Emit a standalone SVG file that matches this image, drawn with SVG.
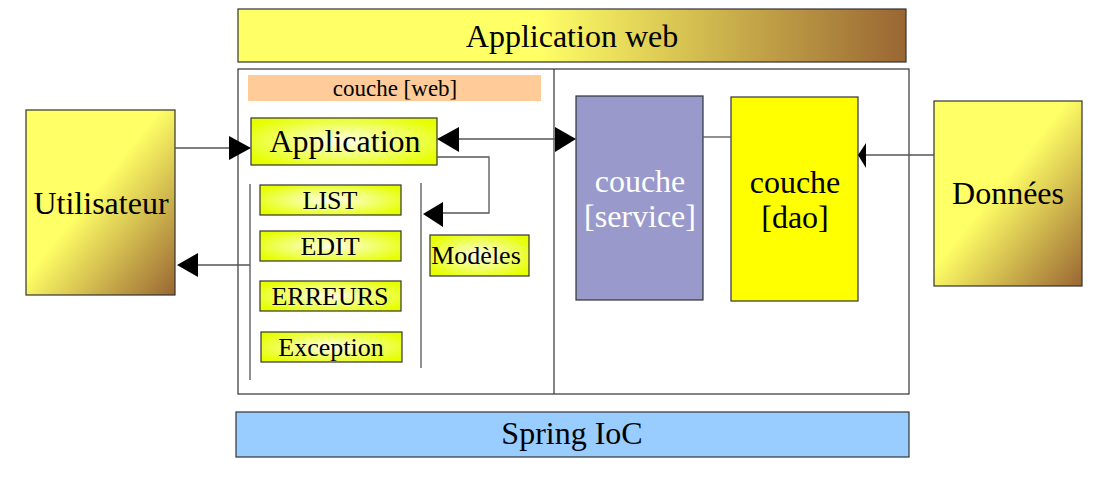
<svg xmlns="http://www.w3.org/2000/svg" width="1108" height="483" viewBox="0 0 1108 483">
<defs>
<linearGradient id="gTop" x1="0" y1="0" x2="1" y2="0">
<stop offset="0.45" stop-color="#ffff66"/>
<stop offset="1" stop-color="#996633"/>
</linearGradient>
<linearGradient id="gSide" x1="0" y1="0" x2="1" y2="1">
<stop offset="0.45" stop-color="#ffff66"/>
<stop offset="1" stop-color="#996633"/>
</linearGradient>
<radialGradient id="gApp" cx="0.5" cy="0.5" r="0.6">
<stop offset="0" stop-color="#ffffe8"/>
<stop offset="1" stop-color="#e6ff00"/>
</radialGradient>
</defs>
<style>
text{font-family:"Liberation Serif","Times New Roman",serif;fill:#000;text-anchor:middle}
.box{stroke:#333;stroke-width:1.2}
.ln{stroke:#555;stroke-width:1.3;fill:none}
.ah{fill:#000}
.t32{font-size:32px}
.t26{font-size:26px}
.t23{font-size:23px}
</style>
<g id="appweb"><rect class="box" x="238" y="9" width="668" height="53" fill="url(#gTop)"/><text class="t32" x="572" y="47">Application web</text></g>
<g id="container"><rect x="238" y="69" width="671" height="325" fill="#fff" stroke="#333" stroke-width="1.2"/><line x1="554" y1="69" x2="554" y2="394" stroke="#333" stroke-width="1.2"/></g>
<g id="web"><rect x="248" y="75" width="293" height="26" fill="#ffcc99"/><text class="t23" x="395" y="96">couche [web]</text></g>
<g id="application"><rect class="box" x="251" y="118" width="186" height="47" fill="url(#gApp)"/><text class="t32" x="345" y="152">Application</text></g>
<g id="list"><rect class="box" x="260" y="185" width="141" height="30" fill="url(#gApp)"/><text class="t26" x="330" y="209">LIST</text></g>
<g id="edit"><rect class="box" x="260" y="231" width="141" height="30" fill="url(#gApp)"/><text class="t26" x="330" y="255">EDIT</text></g>
<g id="erreurs"><rect class="box" x="260" y="281" width="141" height="30" fill="url(#gApp)"/><text class="t26" x="330" y="305">ERREURS</text></g>
<g id="exception"><rect class="box" x="261" y="332" width="141" height="30" fill="url(#gApp)"/><text class="t26" x="331" y="356">Exception</text></g>
<g id="modeles"><rect class="box" x="430" y="235" width="99" height="41" fill="url(#gApp)"/><text class="t26" x="476" y="264">Modèles</text></g>
<g id="service"><rect class="box" x="576" y="96" width="127" height="204" fill="#9999cc"/><text class="t32" x="640" y="192" style="fill:#fff">couche</text><text class="t32" x="640" y="227" style="fill:#fff">[service]</text></g>
<g id="dao"><rect class="box" x="731" y="97" width="127" height="204" fill="#ffff00"/><text class="t32" x="795" y="193">couche</text><text class="t32" x="795" y="228">[dao]</text></g>
<g id="utilisateur"><rect class="box" x="26" y="110" width="149" height="185" fill="url(#gSide)"/><text class="t32" x="101" y="214">Utilisateur</text></g>
<g id="donnees"><rect class="box" x="934" y="101" width="148" height="185" fill="url(#gSide)"/><text class="t32" x="1008" y="204">Données</text></g>
<g id="spring"><rect class="box" x="236" y="412" width="673" height="45" fill="#99ccff"/><text class="t32" x="572" y="444">Spring IoC</text></g>
<g id="connectors">
<line class="ln" x1="250" y1="184" x2="250" y2="380"/>
<line class="ln" x1="421" y1="183" x2="421" y2="368"/>
<line class="ln" x1="175" y1="148" x2="232" y2="148"/>
<polygon class="ah" points="251,148 229,136 229,160"/>
<line class="ln" x1="250" y1="265" x2="195" y2="265"/>
<polygon class="ah" points="177,265 198,253 198,277"/>
<line class="ln" x1="455" y1="139" x2="558" y2="139"/>
<polygon class="ah" points="437,139 459,127 459,152"/>
<polygon class="ah" points="576,139 555,127 555,152"/>
<polyline class="ln" points="437,157 489,157 489,213 440,213"/>
<polygon class="ah" points="423,214 443,202 443,227"/>
<line class="ln" x1="703" y1="137" x2="731" y2="137"/>
<line class="ln" x1="934" y1="155" x2="864" y2="155"/>
<polygon class="ah" points="858,155 866,143 866,168"/>
</g>
</svg>
